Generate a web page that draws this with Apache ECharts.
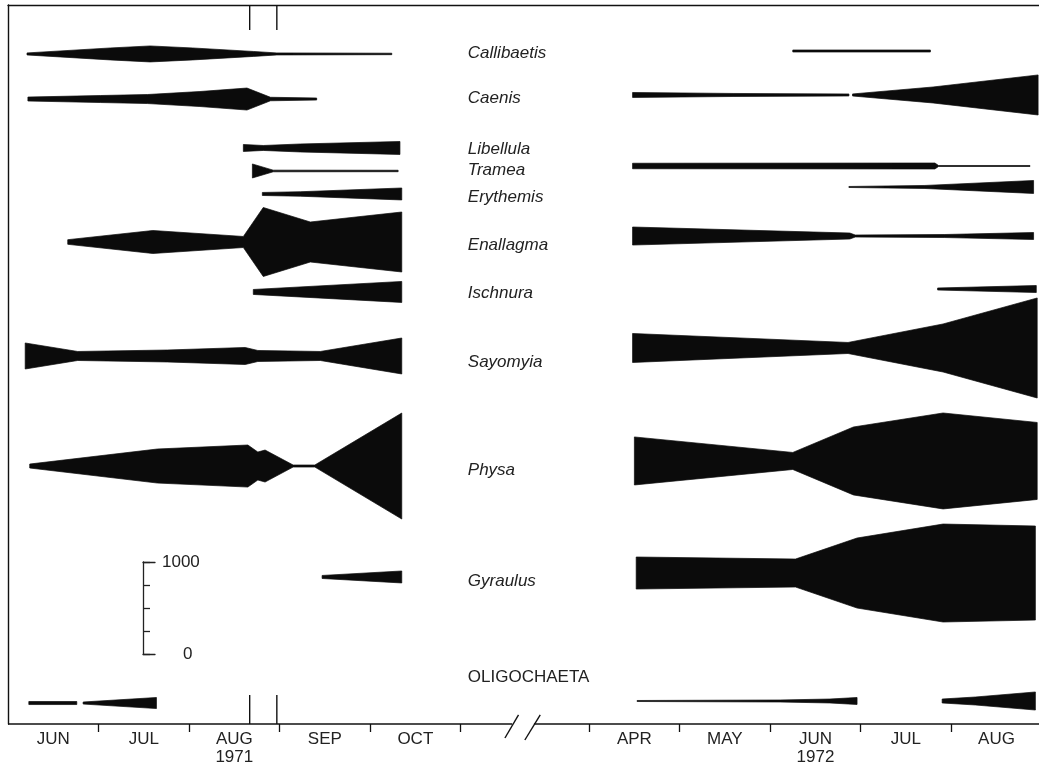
<!DOCTYPE html>
<html>
<head>
<meta charset="utf-8">
<script src="https://cdn.jsdelivr.net/npm/echarts@6/dist/echarts.min.js"></script>
<style>
  html, body { margin: 0; padding: 0; background: #ffffff; }
  #chart { width: 1039px; height: 775px; }
</style>
</head>
<body>
<div id="chart"></div>
<script>
// ---- Month and year labels for the two sampling seasons ----
const months1971 = ['JUN', 'JUL', 'AUG', 'SEP', 'OCT'];
const months1972 = ['APR', 'MAY', 'JUN', 'JUL', 'AUG'];
const years = ['1971', '1972'];

const taxa = ['Callibaetis', 'Caenis', 'Libellula', 'Tramea', 'Erythemis', 'Enallagma',
              'Ischnura', 'Sayomyia', 'Physa', 'Gyraulus', 'OLIGOCHAETA'];

// ---- Abundance along each season ----
// Each array holds one or more continuous segments; a point is
// [months since season start (1971: Jun 1, 1972: Apr 1), number per sample]
const callibaetis1971 = [[[0.21, 22], [1.13, 130], [1.57, 174], [2.04, 130], [2.71, 54], [2.97, 22], [4.24, 16]]];
const callibaetis1972 = [[[2.25, 22], [3.77, 22]]];

const caenis1971 = [[[0.22, 43], [1.02, 76], [1.54, 98], [2.12, 163], [2.64, 239], [2.90, 38], [3.41, 22]]];
const caenis1972 = [[[0.48, 54], [1.59, 33], [2.87, 22]], [[2.91, 22], [3.80, 174], [4.96, 435]]];

const libellula1971 = [[[2.60, 76], [2.82, 54], [3.23, 87], [4.33, 141]]];
const libellula1972 = [];

const tramea1971 = [[[2.70, 152], [2.93, 18], [4.31, 16]]];
const tramea1972 = [[[0.48, 60], [3.82, 65], [3.86, 11], [4.87, 11]]];

const erythemis1971 = [[[2.81, 33], [3.23, 49], [4.35, 130]]];
const erythemis1972 = [[[2.87, 11], [3.71, 33], [4.91, 141]]];

const enallagma1971 = [[[0.66, 50], [1.60, 250], [2.60, 120], [2.82, 750], [3.34, 435], [4.35, 652]]];
const enallagma1972 = [[[0.48, 196], [2.88, 65], [2.94, 22], [3.93, 33], [4.91, 76]]];

const ischnura1971 = [[[2.71, 54], [4.35, 228]]];
const ischnura1972 = [[[3.85, 22], [4.94, 76]]];

const sayomyia1971 = [[[0.19, 283], [0.77, 98], [1.76, 130], [2.62, 185], [2.76, 120], [3.45, 98], [4.35, 391]]];
const sayomyia1972 = [[[0.48, 315], [2.86, 120], [3.91, 522], [4.95, 1087]]];

const physa1971 = [[[0.24, 43], [1.65, 370], [2.65, 457], [2.76, 304], [2.84, 348], [3.15, 22], [3.39, 22], [4.35, 1152]]];
const physa1972 = [[[0.50, 522], [2.25, 185], [2.92, 739], [3.91, 1043], [4.95, 837]]];

const gyraulus1971 = [[[3.47, 33], [4.35, 130]]];
const gyraulus1972 = [[[0.52, 348], [2.28, 304], [2.96, 761], [3.91, 1065], [4.93, 1022]]];

const oligochaeta1971 = [[[0.23, 33], [0.76, 33]], [[0.83, 22], [1.64, 120]]];
const oligochaeta1972 = [[[0.53, 11], [2.11, 22], [2.66, 43], [2.96, 76]], [[3.90, 43], [4.27, 87], [4.93, 196]]];

// Dates (months after Jun 1, 1971) flagged by the paired vertical marks
const markDates1971 = [2.67, 2.97];

// Scale bar ticks (numbers per sample)
const scaleTicks = [0, 250, 500, 750, 1000];

// ---- Layout (axis units) ----
const SEASON_START = [0, 6.42];   // axis position of each season's first day
const X_MAX = 11.39;
const Y_MAX = 7815;               // 1000 individuals span 92 px of kite width
// kite centre lines per row, for each season
const base1971 = [7283, 6793, 6261, 6011, 5761, 5239, 4696, 4000, 2804, 1598, 228];
const base1972 = [7315, 6837, 6261, 6065, 5837, 5304, 4728, 4087, 2859, 1641, 250];
const labelLevel = [7293, 6804, 6250, 6022, 5728, 5207, 4685, 3935, 2761, 1554, 511];
const LABEL_X = 5.08;

const rows1971 = [callibaetis1971, caenis1971, libellula1971, tramea1971, erythemis1971, enallagma1971,
                  ischnura1971, sayomyia1971, physa1971, gyraulus1971, oligochaeta1971];
const rows1972 = [callibaetis1972, caenis1972, libellula1972, tramea1972, erythemis1972, enallagma1972,
                  ischnura1972, sayomyia1972, physa1972, gyraulus1972, oligochaeta1972];

const INK = '#0b0b0b';
const TEXT = '#222222';
const FONT = '"Liberation Sans", Arial, Helvetica, sans-serif';

// One polygon per continuous segment, symmetric about the row's centre line
function kiteSeries(segment, start, base) {
  const pts = segment.map(p => [start + p[0], p[1]]);
  return {
    type: 'custom',
    xAxisIndex: 0, yAxisIndex: 0,
    silent: true, clip: false, z: 3,
    data: pts,
    renderItem: function (params, api) {
      if (params.dataIndex !== 0) return null;
      const upper = pts.map(p => api.coord([p[0], base + p[1] / 2]));
      const lower = pts.slice().reverse().map(p => api.coord([p[0], base - p[1] / 2]));
      return {
        type: 'polygon',
        shape: { points: upper.concat(lower) },
        style: { fill: INK, stroke: INK, lineWidth: 0.7 }
      };
    }
  };
}

const series = [];
rows1971.forEach((segs, i) => segs.forEach(s => series.push(kiteSeries(s, SEASON_START[0], base1971[i]))));
rows1972.forEach((segs, i) => segs.forEach(s => series.push(kiteSeries(s, SEASON_START[1], base1972[i]))));

// Taxon names in the gap between the seasons
series.push({
  type: 'custom', xAxisIndex: 0, yAxisIndex: 0, silent: true, clip: false, z: 4,
  data: labelLevel.map((v, i) => [LABEL_X, v, i]),
  renderItem: function (params, api) {
    const p = api.coord([api.value(0), api.value(1)]);
    const i = api.value(2);
    const upper = taxa[i] === taxa[i].toUpperCase();
    return {
      type: 'text', x: p[0], y: p[1],
      style: {
        text: taxa[i], fill: TEXT,
        font: (upper ? 'normal 17px ' : 'italic 17px ') + FONT,
        align: 'left', verticalAlign: 'middle'
      }
    };
  }
});

// Paired vertical marks at the top and bottom frame edges
series.push({
  type: 'custom', xAxisIndex: 0, yAxisIndex: 0, silent: true, clip: false, z: 4,
  data: markDates1971.map(d => [d, 0]),
  renderItem: function (params, api) {
    const x = api.value(0);
    const t0 = api.coord([x, Y_MAX]), t1 = api.coord([x, 7543]);
    const b0 = api.coord([x, 0]), b1 = api.coord([x, 315]);
    const ls = { stroke: '#111', lineWidth: 1.4 };
    return {
      type: 'group',
      children: [
        { type: 'line', shape: { x1: t0[0], y1: t0[1], x2: t1[0], y2: t1[1] }, style: ls },
        { type: 'line', shape: { x1: b0[0], y1: b0[1], x2: b1[0], y2: b1[1] }, style: ls }
      ]
    };
  }
});

// Time axis line with a break between the seasons
series.push({
  type: 'custom', xAxisIndex: 0, yAxisIndex: 0, silent: true, clip: false, z: 4,
  data: [[0, 0]],
  renderItem: function (params, api) {
    const ls = { stroke: '#111', lineWidth: 1.4 };
    const seg = (a, b) => {
      const p = api.coord(a), q = api.coord(b);
      return { type: 'line', shape: { x1: p[0], y1: p[1], x2: q[0], y2: q[1] }, style: ls };
    };
    return {
      type: 'group',
      children: [
        seg([0, 0], [5.57, 0]),
        seg([5.81, 0], [X_MAX, 0]),
        seg([5.49, -152], [5.64, 100]),
        seg([5.71, -174], [5.88, 100])
      ]
    };
  }
});

const tickValues = [];
const labelValues = [];
const labelText = {};
[months1971, months1972].forEach((ms, k) => {
  ms.forEach((m, j) => {
    const v = +(SEASON_START[k] + j + 0.5).toFixed(2);
    labelValues.push(v);
    labelText[v] = m;
    if (k === 0) tickValues.push(SEASON_START[k] + j + 1);
    else tickValues.push(+(SEASON_START[k] + j).toFixed(2));
  });
});
const yearValues = [2.5, +(SEASON_START[1] + 2.5).toFixed(2)];

const chart = echarts.init(document.getElementById('chart'), null, { renderer: 'canvas' });
chart.setOption({
  backgroundColor: '#ffffff',
  animation: false,
  grid: [
    { left: 8, top: 5, width: 1031, height: 719 },
    { left: 143, top: 562, width: 12, height: 92 }
  ],
  xAxis: [
    {
      type: 'value', gridIndex: 0, position: 'bottom', min: 0, max: X_MAX,
      axisLine: { show: false },
      axisTick: { show: true, customValues: tickValues, length: 8, lineStyle: { color: '#111', width: 1.3 } },
      axisLabel: {
        show: true, customValues: labelValues, margin: 7,
        formatter: v => labelText[+v.toFixed(2)] || '',
        color: TEXT, fontSize: 17, fontFamily: FONT
      },
      splitLine: { show: false }
    },
    {
      type: 'value', gridIndex: 0, position: 'bottom', offset: 19, min: 0, max: X_MAX,
      axisLine: { show: false }, axisTick: { show: false },
      axisLabel: {
        show: true, customValues: yearValues, margin: 6,
        formatter: v => (Math.abs(v - yearValues[0]) < 0.01 ? years[0] : years[1]),
        color: TEXT, fontSize: 17, fontFamily: FONT
      },
      splitLine: { show: false }
    },
    {
      type: 'value', gridIndex: 0, position: 'top', min: 0, max: X_MAX,
      axisLine: { show: true, lineStyle: { color: '#111', width: 1.4 } },
      axisTick: { show: false }, axisLabel: { show: false }, splitLine: { show: false }
    },
    {
      type: 'value', gridIndex: 1, position: 'bottom', min: 0, max: 1,
      axisLine: { show: true, lineStyle: { color: '#222', width: 1.3 } },
      axisTick: { show: false }, axisLabel: { show: false }, splitLine: { show: false }
    },
    {
      type: 'value', gridIndex: 1, position: 'top', min: 0, max: 1,
      axisLine: { show: true, lineStyle: { color: '#222', width: 1.3 } },
      axisTick: { show: false }, axisLabel: { show: false }, splitLine: { show: false }
    }
  ],
  yAxis: [
    {
      type: 'value', gridIndex: 0, min: 0, max: Y_MAX,
      axisLine: { show: true, lineStyle: { color: '#111', width: 1.4 } },
      axisTick: { show: false }, axisLabel: { show: false }, splitLine: { show: false }
    },
    {
      type: 'value', gridIndex: 1, min: scaleTicks[0], max: scaleTicks[scaleTicks.length - 1], interval: 250,
      position: 'left',
      axisLine: { show: true, lineStyle: { color: '#222', width: 1.3 } },
      axisTick: { show: true, inside: true, length: 7, lineStyle: { color: '#222', width: 1.3 } },
      axisLabel: {
        show: true, inside: true, margin: 19,
        formatter: v => (v === 1000 ? '{a|1000}' : v === 0 ? '{b|0}' : ''),
        rich: {
          a: { color: TEXT, fontSize: 17, fontFamily: FONT },
          b: { color: TEXT, fontSize: 17, fontFamily: FONT, padding: [0, 0, 0, 21] }
        }
      },
      splitLine: { show: false }
    }
  ],
  series: series
});
</script>
</body>
</html>
